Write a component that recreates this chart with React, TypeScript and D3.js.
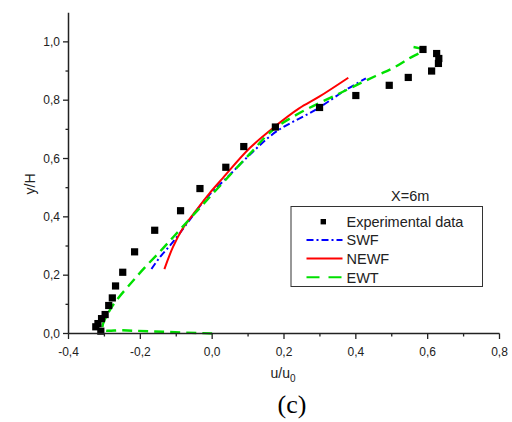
import React from "react";
import * as d3 from "d3";

const expU = [-0.310, -0.324, -0.318, -0.308, -0.298, -0.288, -0.278, -0.269, -0.249, -0.216, -0.160, -0.088, -0.034, 0.038, 0.088, 0.176, 0.299, 0.400, 0.493, 0.546, 0.611, 0.630, 0.631, 0.625, 0.587];
const expY = [0.008, 0.023, 0.034, 0.051, 0.065, 0.096, 0.122, 0.163, 0.210, 0.280, 0.354, 0.421, 0.497, 0.570, 0.641, 0.708, 0.775, 0.816, 0.851, 0.878, 0.900, 0.926, 0.943, 0.960, 0.974];

const swfU = [-0.169, -0.146, -0.109, -0.063, -0.017, 0.048, 0.104, 0.178, 0.289, 0.372, 0.428];
const swfY = [0.221, 0.261, 0.314, 0.389, 0.463, 0.543, 0.612, 0.692, 0.768, 0.835, 0.875];

const newfU = [-0.133, -0.109, -0.082, -0.044, -0.008, 0.029, 0.104, 0.176, 0.242, 0.298, 0.379];
const newfY = [0.221, 0.297, 0.360, 0.423, 0.480, 0.532, 0.635, 0.711, 0.772, 0.812, 0.877];

const ewtU = [0.0, -0.137, -0.25, -0.304, -0.285, -0.211, -0.137, -0.091, -0.04, 0.011, 0.104, 0.168, 0.242, 0.354, 0.455, 0.502, 0.548, 0.587, 0.552];
const ewtY = [0.0, 0.006, 0.011, 0.015, 0.08, 0.194, 0.292, 0.354, 0.423, 0.492, 0.615, 0.697, 0.755, 0.823, 0.883, 0.909, 0.943, 0.972, 0.984];

const xTicks = [-0.4, -0.2, 0.0, 0.2, 0.4, 0.6, 0.8];
const xMinor = [-0.3, -0.1, 0.1, 0.3, 0.5, 0.7];
const yTicks = [0.0, 0.2, 0.4, 0.6, 0.8, 1.0];
const yMinor = [0.1, 0.3, 0.5, 0.7, 0.9];

const legendLabels = ["Experimental data", "SWF", "NEWF", "EWT"];
const fmt = (v: number) => v.toFixed(1).replace(".", ",");

export default function App() {
  const x = d3.scaleLinear().domain([-0.4, 0.8]).range([68.5, 499.5]);
  const y = d3.scaleLinear().domain([0, 1.1]).range([333.5, 12.7]);
  const font = "'Liberation Sans', Arial, sans-serif";
  const axisColor = "#222";

  const mk = (us: number[], ys: number[]) =>
    d3.line<number>().x((_, i) => x(us[i])).y((_, i) => y(ys[i])).curve(d3.curveCatmullRom.alpha(0.5))(us) || "";

  const series = [
    { d: mk(swfU, swfY), color: "#0000ff", dash: "7,3,2,3", w: 2 },
    { d: mk(newfU, newfY), color: "#ff0000", dash: undefined, w: 2 },
    { d: mk(ewtU, ewtY), color: "#00e000", dash: "10,6", w: 2.4 },
  ];

  const lx0 = 291, ly0 = 206.5, lw = 191.5, lh = 80;
  const rows = [221.7, 240, 258.5, 277.3];

  return (
    <svg width={512} height={422} style={{ position: "absolute", left: 0, top: 0, background: "#fff" }} fontFamily={font}>
      <rect x={0} y={0} width={512} height={422} fill="#fff" />
      {series.map((s, i) => (
        <path key={i} d={s.d} fill="none" stroke={s.color} strokeWidth={s.w} strokeDasharray={s.dash} />
      ))}
      {expU.map((u, i) => (
        <rect key={i} x={x(u) - 3.6} y={y(expY[i]) - 3.6} width={7.2} height={7.2} fill="#000" />
      ))}
      {/* axes */}
      <line x1={x(-0.4)} x2={x(0.8)} y1={y(0)} y2={y(0)} stroke={axisColor} strokeWidth={1.5} />
      <line x1={x(-0.4)} x2={x(-0.4)} y1={y(0)} y2={y(1.1)} stroke={axisColor} strokeWidth={1.5} />
      {xTicks.map((t) => (
        <g key={"xt" + t}>
          <line x1={x(t)} x2={x(t)} y1={y(0)} y2={y(0) + 5.5} stroke={axisColor} strokeWidth={1.3} />
          <text x={x(t)} y={356} textAnchor="middle" fontSize={12} fill="#222">{fmt(t)}</text>
        </g>
      ))}
      {xMinor.map((t) => (
        <line key={"xm" + t} x1={x(t)} x2={x(t)} y1={y(0)} y2={y(0) + 3} stroke={axisColor} strokeWidth={1.3} />
      ))}
      {yTicks.map((t) => (
        <g key={"yt" + t}>
          <line x1={x(-0.4) - 5.5} x2={x(-0.4)} y1={y(t)} y2={y(t)} stroke={axisColor} strokeWidth={1.3} />
          <text x={60} y={y(t) + 4.3} textAnchor="end" fontSize={12} fill="#222">{fmt(t)}</text>
        </g>
      ))}
      {yMinor.map((t) => (
        <line key={"ym" + t} x1={x(-0.4) - 3} x2={x(-0.4)} y1={y(t)} y2={y(t)} stroke={axisColor} strokeWidth={1.3} />
      ))}
      {/* axis labels */}
      <text transform="translate(35,184) rotate(-90)" textAnchor="middle" fontSize={14} fill="#222">y/H</text>
      <text x={270.5} y={377.5} fontSize={14} fill="#222">
        u/u<tspan dy={4.5} fontSize={10}>0</tspan>
      </text>
      <text x={292} y={413} textAnchor="middle" fontSize={26} fontFamily="'Liberation Serif', 'Times New Roman', serif" fill="#000">(c)</text>
      {/* annotation */}
      <text x={391} y={201} fontSize={14.5} fill="#222">X=6m</text>
      {/* legend */}
      <rect x={lx0} y={ly0} width={lw} height={lh} fill="#fff" stroke="#333" strokeWidth={1} />
      <rect x={323.3 - 2.7} y={rows[0] - 2.7} width={5.4} height={5.4} fill="#000" />
      <line x1={306.5} x2={342.5} y1={rows[1]} y2={rows[1]} stroke="#0000ff" strokeWidth={2} strokeDasharray="7,3,2,3" />
      <line x1={306.5} x2={342.5} y1={rows[2]} y2={rows[2]} stroke="#ff0000" strokeWidth={2} />
      <line x1={306.5} x2={342.5} y1={rows[3]} y2={rows[3]} stroke="#00e000" strokeWidth={2} strokeDasharray="13,9" />
      {legendLabels.map((l, i) => (
        <text key={l} x={346.5} y={rows[i] + 5.2} fontSize={14.5} fill="#222">{l}</text>
      ))}
    </svg>
  );
}
